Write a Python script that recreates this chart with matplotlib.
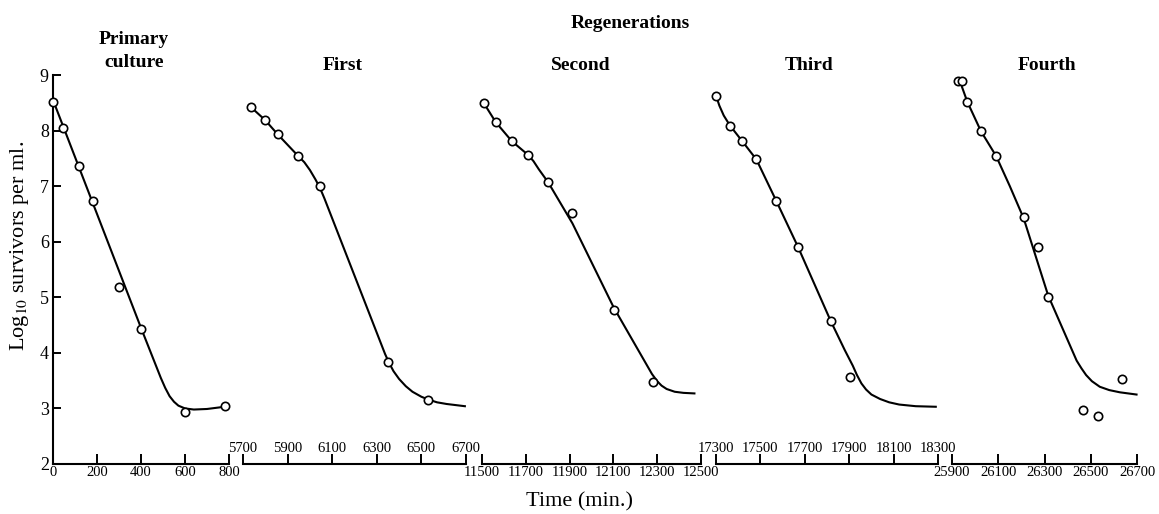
import matplotlib
matplotlib.use('Agg')
import matplotlib.pyplot as plt

plt.rcParams['font.family'] = ['Liberation Serif', 'DejaVu Serif']
plt.rcParams['mathtext.fontset'] = 'stix'

# ---------------- data ----------------
panel_titles = ['Primary\nculture', 'First', 'Second', 'Third', 'Fourth']
x_limits = [(0, 800), (5700, 6700), (11500, 12500), (17300, 18300), (25900, 26700)]
x_ticks = [
    [0, 200, 400, 600, 800],
    [5700, 5900, 6100, 6300, 6500, 6700],
    [11500, 11700, 11900, 12100, 12300, 12500],
    [17300, 17500, 17700, 17900, 18100, 18300],
    [25900, 26100, 26300, 26500, 26700],
]
labels_above = [False, True, False, True, False]
y_ticks = [2, 3, 4, 5, 6, 7, 8, 9]

primary_t = [0, 45, 120, 180, 300, 400, 600, 780]
primary_y = [8.52, 8.04, 7.36, 6.74, 5.18, 4.43, 2.94, 3.04]
primary_curve_t = [0, 400, 440, 465, 490, 510, 530, 550, 570, 600, 640, 700, 780]
primary_curve_y = [8.55, 4.45, 4.05, 3.80, 3.55, 3.37, 3.22, 3.12, 3.05, 3.00, 2.98, 2.99, 3.03]

first_t = [5736, 5799, 5856, 5948, 6045, 6352, 6531]
first_y = [8.42, 8.19, 7.93, 7.54, 7.01, 3.83, 3.16]
first_curve_t = [5736, 5799, 5856, 5948, 5975, 6000, 6025, 6045, 6065, 6337, 6355, 6375,
                 6400, 6430, 6460, 6500, 6531, 6570, 6613, 6695]
first_curve_y = [8.42, 8.19, 7.93, 7.54, 7.43, 7.29, 7.12, 6.97, 6.78, 3.98, 3.82, 3.67,
                 3.53, 3.40, 3.30, 3.21, 3.16, 3.11, 3.08, 3.04]

second_t = [11509, 11563, 11636, 11711, 11802, 11913, 12101, 12279]
second_y = [8.49, 8.15, 7.81, 7.56, 7.07, 6.51, 4.78, 3.47]
second_curve_t = [11509, 11563, 11636, 11711, 11735, 11760, 11802, 11913, 12101, 12276,
                  12300, 12320, 12343, 12380, 12420, 12470]
second_curve_y = [8.49, 8.15, 7.81, 7.56, 7.45, 7.30, 7.07, 6.33, 4.82, 3.62,
                  3.49, 3.41, 3.35, 3.30, 3.28, 3.27]

third_t = [17300, 17363, 17418, 17482, 17572, 17669, 17816, 17904]
third_y = [8.63, 8.09, 7.81, 7.48, 6.73, 5.91, 4.58, 3.57]
third_curve_t = [17300, 17315, 17335, 17363, 17418, 17482, 17572, 17669, 17816, 17880,
                 17916, 17935, 17955, 17976, 18000, 18039, 18080, 18125, 18200, 18290]
third_curve_y = [8.63, 8.45, 8.27, 8.09, 7.81, 7.48, 6.73, 5.91, 4.58, 4.05,
                 3.77, 3.60, 3.45, 3.34, 3.25, 3.17, 3.11, 3.07, 3.04, 3.03]

fourth_t = [25925, 25945, 25966, 26025, 26091, 26210, 26271, 26316, 26467, 26532, 26636]
fourth_y = [8.90, 8.90, 8.52, 7.99, 7.54, 6.45, 5.90, 5.01, 2.98, 2.86, 3.53]
fourth_curve_t = [25935, 25966, 26025, 26091, 26150, 26210, 26316, 26439, 26460, 26480,
                  26505, 26539, 26580, 26626, 26698]
fourth_curve_y = [8.88, 8.52, 7.99, 7.54, 7.00, 6.42, 5.03, 3.86, 3.72, 3.60,
                  3.49, 3.39, 3.33, 3.29, 3.25]

points_t = [primary_t, first_t, second_t, third_t, fourth_t]
points_y = [primary_y, first_y, second_y, third_y, fourth_y]
curves_t = [primary_curve_t, first_curve_t, second_curve_t, third_curve_t, fourth_curve_t]
curves_y = [primary_curve_y, first_curve_y, second_curve_y, third_curve_y, fourth_curve_y]

# ---------------- layout ----------------
W, H, DPI = 1159, 514, 100
fig = plt.figure(figsize=(W / DPI, H / DPI), dpi=DPI, facecolor='white')

panel_px = [(53, 229), (243, 466), (482, 701), (716, 938), (952, 1137)]
top_px, bottom_px = 75, 464
title_px = [(134, 51), (343, 66), (581, 66), (809, 66), (1047, 66)]


def fx(px):
    return px / W


def fy(py):
    return 1 - py / H


for i in range(5):
    l, r = panel_px[i]
    ax = fig.add_axes([fx(l), fy(bottom_px), fx(r - l), (bottom_px - top_px) / H])
    ax.set_xlim(*x_limits[i])
    ax.set_ylim(2, 9)
    ax.patch.set_alpha(0)
    for s in ['top', 'right']:
        ax.spines[s].set_visible(False)
    ax.spines['bottom'].set_linewidth(1.5)
    if i == 0:
        ax.spines['left'].set_linewidth(1.5)
        ax.set_yticks(y_ticks)
        ax.tick_params(axis='y', direction='in', length=6, width=1.4, pad=3, labelsize=13)
    else:
        ax.spines['left'].set_visible(False)
        ax.set_yticks([])
    ax.set_xticks(x_ticks[i])
    ax.set_xticklabels([str(v) for v in x_ticks[i]])
    pad = -16 if labels_above[i] else 1.5
    ax.tick_params(axis='x', direction='in', length=7, width=1.4, pad=pad, labelsize=10.5)

    ax.plot(curves_t[i], curves_y[i], color='black', lw=1.5, clip_on=False, zorder=2,
            solid_joinstyle='round')
    ax.plot(points_t[i], points_y[i], linestyle='none', marker='o', markersize=6,
            markerfacecolor='white', markeredgecolor='black', markeredgewidth=1.2,
            clip_on=False, zorder=3)

    tx, ty = title_px[i]
    fig.text(fx(tx), fy(ty), panel_titles[i], ha='center', va='center',
             fontsize=14, fontweight='bold', linespacing=1.4)

fig.text(fx(630), fy(23), 'Regenerations', ha='center', va='center', fontsize=14, fontweight='bold')
fig.text(fx(20), fy(246), 'Log$_{10}$ survivors per ml.', ha='center', va='center',
         rotation=90, fontsize=16)
fig.text(fx(579), fy(502), 'Time (min.)', ha='center', va='center', fontsize=16)

fig.savefig('out.png', dpi=DPI, facecolor='white')
